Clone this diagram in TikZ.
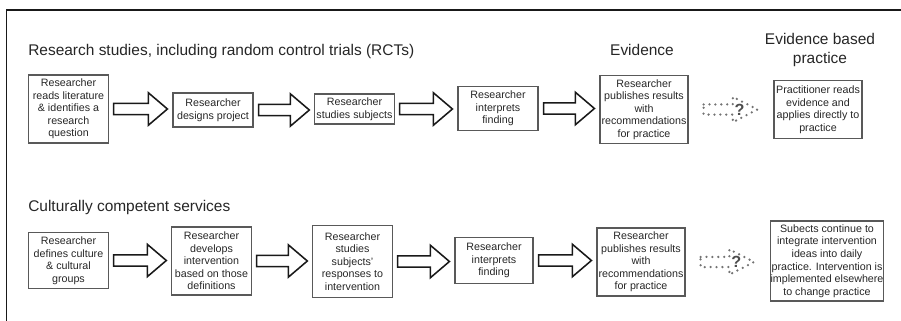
\documentclass[tikz,border=0pt]{standalone}
\usepackage{fontspec}
\setmainfont{Liberation Sans}
\usetikzlibrary{calc}

\begin{document}
\begin{tikzpicture}[x=0.025cm, y=-0.025cm,
  stage/.style={draw=black!65, line width=0.8pt, align=center, inner sep=0pt,
    font=\fontsize{7.6}{8.9}\selectfont, text=black!85},
  heading/.style={font=\fontsize{11}{13.5}\selectfont, text=black!85, inner sep=0pt},
  blockarr/.style={draw=black!90, line width=1.1pt, fill=white, line join=miter},
  guessarr/.style={draw=black!55, line width=1.8pt, dash pattern=on 0pt off 4.2pt, line cap=round}]

  \useasboundingbox (0,0) rectangle (901,321);

  % Frame (top and left edges only)
  \draw[line width=1.4pt, black!90] (901,10) -- (6.5,10) -- (6.5,321);

  % Outline block arrow between two stages
  \newcommand{\blockarrow}[2]{
    \draw[blockarr] let \p1=($(#1.east)+(5,0)$), \p2=($(#2.west)+(-5,0)$) in
      (\x1,\y1+4pt) -- (\x2-13.5pt,\y1+4pt) -- (\x2-13.5pt,\y1+11.5pt) -- (\x2,\y1)
      -- (\x2-13.5pt,\y1-11.5pt) -- (\x2-13.5pt,\y1-4pt) -- (\x1,\y1-4pt) -- cycle;
  }

  % Dotted arrow with a question mark (uncertain step)
  \newcommand{\guessarrow}[2]{
    \draw[guessarr] let \p1=($(#1.east)+(15,0)$), \p2=($(#2.west)+(-16,0)$) in
      (\x1,\y1+3.6pt) -- (\x2-17.5pt,\y1+3.6pt) -- (\x2-17.5pt,\y1+9pt) -- (\x2,\y1)
      -- (\x2-17.5pt,\y1-9pt) -- (\x2-17.5pt,\y1-3.6pt) -- (\x1,\y1-3.6pt) -- cycle;
    \node[font=\bfseries\fontsize{11.5}{11.5}\selectfont, text=black!70] (#1q)
      at ($(#1.east)!0.6!(#2.west)$) {?};
  }

  % Headings
  \node[heading, anchor=west] (rctTitle) at (28,52) {Research studies, including random control trials (RCTs)};
  \node[heading] (evTitle) at (642,50) {Evidence};
  \node[heading, align=center] (ebpTitle) at (820,50) {Evidence based\\practice};
  \node[heading, anchor=west] (ccsTitle) at (28,208) {Culturally competent services};

  % Row 1: research studies
  \node[stage, minimum width=1.98cm, minimum height=1.7cm] (r1) at (68.5,109)
    {Researcher\\reads literature\\\& identifies a\\research\\question};
  \node[stage, minimum width=2cm, minimum height=0.85cm] (r2) at (213,110)
    {Researcher\\designs project};
  \node[stage, minimum width=1.98cm, minimum height=0.75cm] (r3) at (354.5,109)
    {Researcher\\studies subjects};
  \node[stage, minimum width=2cm, minimum height=1.08cm] (r4) at (498,108.5)
    {Researcher\\interprets\\finding};
  \node[stage, minimum width=2.2cm, minimum height=1.72cm] (r5) at (644,109.5)
    {Researcher\\publishes results\\with\\recommendations\\for practice};
  \node[stage, minimum width=2.2cm, minimum height=1.43cm] (r6) at (818,109.5)
    {Practitioner reads\\evidence and\\applies directly to\\practice};

  \blockarrow{r1}{r2}
  \blockarrow{r2}{r3}
  \blockarrow{r3}{r4}
  \blockarrow{r4}{r5}
  \guessarrow{r5}{r6}

  % Row 2: culturally competent services
  \node[stage, minimum width=1.98cm, minimum height=1.38cm] (c1) at (68.5,260.5)
    {Researcher\\defines culture\\\& cultural\\groups};
  \node[stage, minimum width=1.98cm, minimum height=1.7cm] (c2) at (211.5,261)
    {Researcher\\develops\\intervention\\based on those\\definitions};
  \node[stage, minimum width=1.98cm, minimum height=1.78cm] (c3) at (352.5,261.5)
    {Researcher\\studies\\subjects'\\responses to\\intervention};
  \node[stage, minimum width=1.95cm, minimum height=1.13cm] (c4) at (494,260.5)
    {Researcher\\interprets\\finding};
  \node[stage, minimum width=2.2cm, minimum height=1.7cm] (c5) at (641,262)
    {Researcher\\publishes results\\with\\recommendations\\for practice};
  \node[stage, minimum width=2.8cm, minimum height=2cm] (c6) at (827,261)
    {Subects continue to\\integrate intervention\\ideas into daily\\practice. Intervention is\\implemented elsewhere\\to change practice};

  \blockarrow{c1}{c2}
  \blockarrow{c2}{c3}
  \blockarrow{c3}{c4}
  \blockarrow{c4}{c5}
  \guessarrow{c5}{c6}

\end{tikzpicture}
\end{document}
